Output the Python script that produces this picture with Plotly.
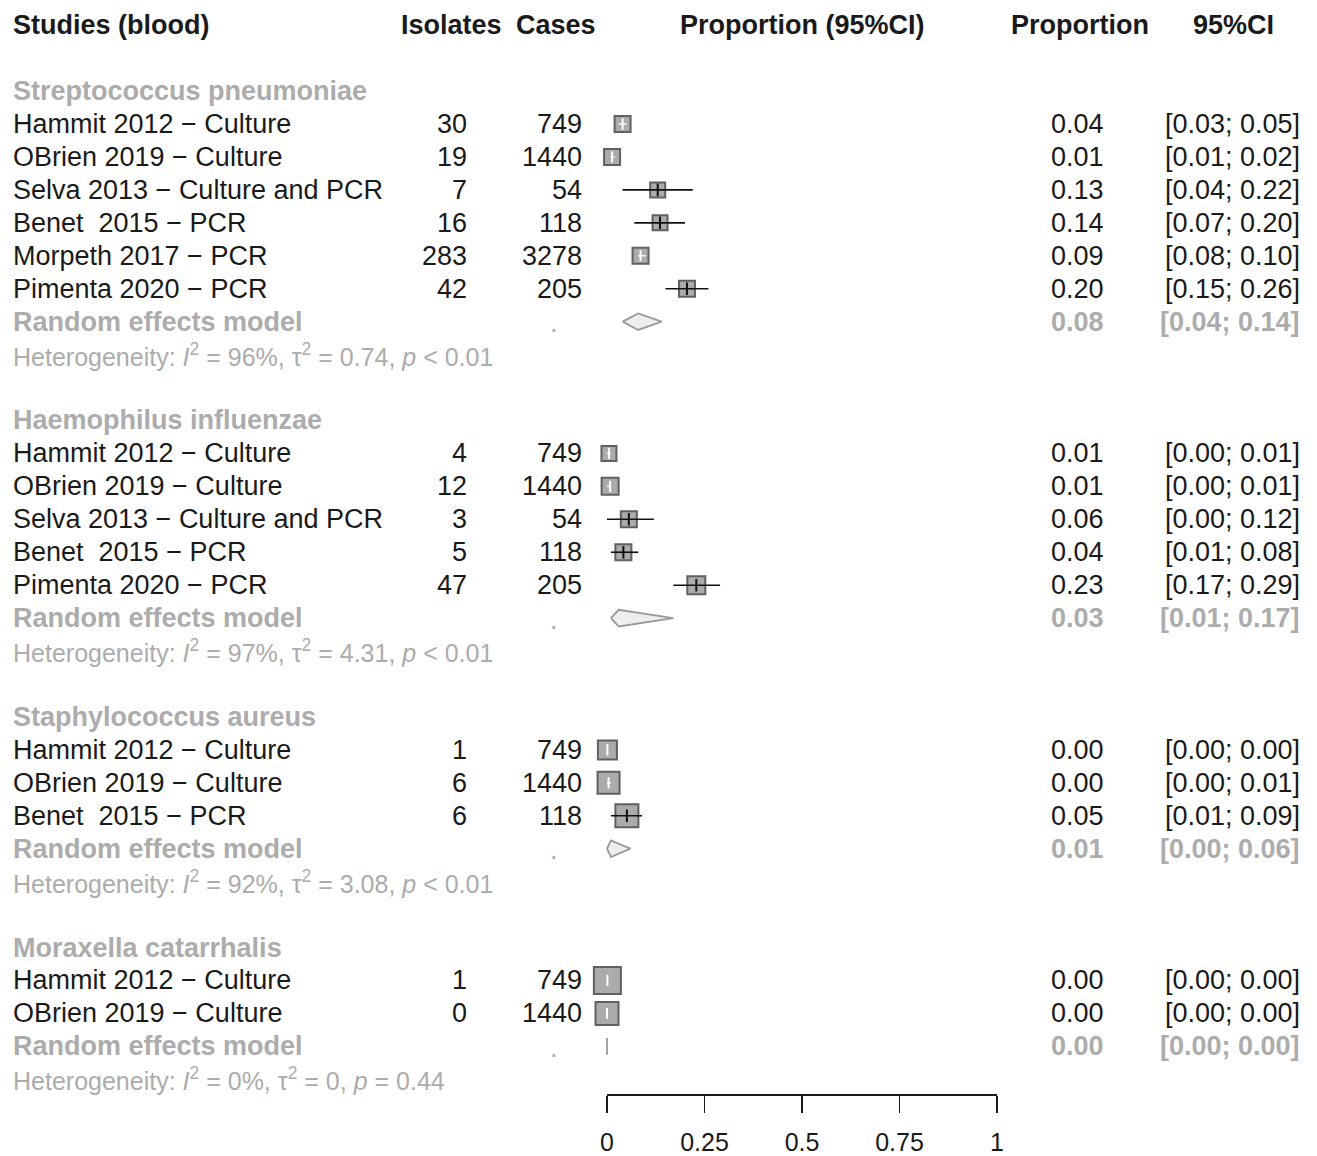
import plotly.graph_objects as go

W, H = 1317, 1156

# ---------------- data ----------------
group_names = ["Streptococcus pneumoniae", "Haemophilus influenzae",
               "Staphylococcus aureus", "Moraxella catarrhalis"]

sp_studies = ["Hammit 2012 − Culture", "OBrien 2019 − Culture", "Selva 2013 − Culture and PCR",
              "Benet\u00a0 2015 − PCR", "Morpeth 2017 − PCR", "Pimenta 2020 − PCR"]
sp_isolates = [30, 19, 7, 16, 283, 42]
sp_cases = [749, 1440, 54, 118, 3278, 205]
sp_prop = [0.040, 0.013, 0.130, 0.136, 0.086, 0.205]
sp_lower = [0.03, 0.01, 0.04, 0.07, 0.08, 0.15]
sp_upper = [0.05, 0.02, 0.22, 0.20, 0.10, 0.26]
sp_weight_px = [16, 16, 15, 15, 16, 16]

hi_studies = ["Hammit 2012 − Culture", "OBrien 2019 − Culture", "Selva 2013 − Culture and PCR",
              "Benet\u00a0 2015 − PCR", "Pimenta 2020 − PCR"]
hi_isolates = [4, 12, 3, 5, 47]
hi_cases = [749, 1440, 54, 118, 205]
hi_prop = [0.005, 0.008, 0.056, 0.042, 0.229]
hi_lower = [0.00, 0.00, 0.00, 0.01, 0.17]
hi_upper = [0.01, 0.01, 0.12, 0.08, 0.29]
hi_weight_px = [15, 17, 16, 16, 18]

sa_studies = ["Hammit 2012 − Culture", "OBrien 2019 − Culture", "Benet\u00a0 2015 − PCR"]
sa_isolates = [1, 6, 6]
sa_cases = [749, 1440, 118]
sa_prop = [0.001, 0.004, 0.051]
sa_lower = [0.00, 0.00, 0.01]
sa_upper = [0.00, 0.01, 0.09]
sa_weight_px = [19, 22, 23]

mc_studies = ["Hammit 2012 − Culture", "OBrien 2019 − Culture"]
mc_isolates = [1, 0]
mc_cases = [749, 1440]
mc_prop = [0.001, 0.000]
mc_lower = [0.00, 0.00]
mc_upper = [0.00, 0.00]
mc_weight_px = [27, 23]

re_prop = [0.08, 0.03, 0.01, 0.00]
re_lower = [0.04, 0.01, 0.00, 0.00]
re_upper = [0.14, 0.17, 0.06, 0.00]

het_i2 = ["96%", "97%", "92%", "0%"]
het_tau2 = ["0.74", "4.31", "3.08", "0"]
het_p = ["&lt; 0.01", "&lt; 0.01", "&lt; 0.01", "= 0.44"]

tick_vals = [0, 0.25, 0.5, 0.75, 1]
tick_text = ["0", "0.25", "0.5", "0.75", "1"]

headers = ["Studies (blood)", "Isolates", "Cases", "Proportion (95%CI)", "Proportion", "95%CI"]

# ---------------- layout constants (page pixels) ----------------
FONT = "Liberation Sans, Arial, sans-serif"
FS = 27
BLACK = "#1a1a1a"
GRAY = "#acacac"
ROW0_PAGE = 25.2
ROW_H = 32.94
X0_PAGE, UNIT_PX = 607, 390
AXIS_PAGE = 1095
PAD = 0.1

def fx(x_page):
    return x_page / W

AXIS_ROW = (AXIS_PAGE - ROW0_PAGE) / ROW_H

groups = [
    dict(studies=sp_studies, iso=sp_isolates, cases=sp_cases, prop=sp_prop, lo=sp_lower, hi=sp_upper, w=sp_weight_px),
    dict(studies=hi_studies, iso=hi_isolates, cases=hi_cases, prop=hi_prop, lo=hi_lower, hi=hi_upper, w=hi_weight_px),
    dict(studies=sa_studies, iso=sa_isolates, cases=sa_cases, prop=sa_prop, lo=sa_lower, hi=sa_upper, w=sa_weight_px),
    dict(studies=mc_studies, iso=mc_isolates, cases=mc_cases, prop=mc_prop, lo=mc_lower, hi=mc_upper, w=mc_weight_px),
]

fig = go.Figure()
ann = []

def add_text(x_page, row, text, anchor="left", color=BLACK, bold=False, size=FS):
    ann.append(dict(x=fx(x_page), xref="paper", y=row, yref="y", text=(f"<b>{text}</b>" if bold else text),
                    xanchor=anchor, yanchor="middle", showarrow=False,
                    font=dict(family=FONT, size=size, color=color)))

# headers
add_text(11, 0, headers[0], bold=True)
add_text(399, 0, headers[1], bold=True)
add_text(514, 0, headers[2], bold=True)
add_text(802, 0, headers[3], anchor="center", bold=True)
add_text(1009, 0, headers[4], bold=True)
add_text(1233, 0, headers[5], anchor="center", bold=True)

row = 2
all_sq_x, all_sq_y, all_sq_s = [], [], []
black_lx, black_ly, white_lx, white_ly = [], [], [], []
black_tx, black_ty, white_tx, white_ty = [], [], [], []

for gi, g in enumerate(groups):
    add_text(11, row, group_names[gi], color=GRAY, bold=True)
    row += 1
    for i, name in enumerate(g["studies"]):
        add_text(11, row, name)
        add_text(469, row, str(g["iso"][i]), anchor="right")
        add_text(584, row, str(g["cases"][i]), anchor="right")
        add_text(1106, row, f"{g['prop'][i]:.2f}", anchor="right")
        add_text(1302, row, f"[{g['lo'][i]:.2f}; {g['hi'][i]:.2f}]", anchor="right")
        all_sq_x.append(g["prop"][i]); all_sq_y.append(row); all_sq_s.append(g["w"][i])
        inside = (g["hi"][i] - g["lo"][i]) * UNIT_PX < g["w"][i]
        if inside:
            white_lx += [g["lo"][i], g["hi"][i], None]; white_ly += [row, row, None]
            white_tx.append(g["prop"][i]); white_ty.append(row)
        else:
            black_lx += [g["lo"][i], g["hi"][i], None]; black_ly += [row, row, None]
            black_tx.append(g["prop"][i]); black_ty.append(row)
        row += 1
    # random effects
    add_text(11, row, "Random effects model", color=GRAY, bold=True)
    add_text(554, row + 0.05, ".", anchor="center", color=GRAY)
    add_text(1106, row, f"{re_prop[gi]:.2f}", anchor="right", color=GRAY, bold=True)
    add_text(1302, row, f"[{re_lower[gi]:.2f}; {re_upper[gi]:.2f}]", anchor="right", color=GRAY, bold=True)
    hh = 8.3 / ROW_H
    fig.add_trace(go.Scatter(
        x=[re_lower[gi], re_prop[gi], re_upper[gi], re_prop[gi], re_lower[gi]],
        y=[row, row - hh, row, row + hh, row],
        mode="lines", fill="toself", fillcolor="#eeeeee",
        line=dict(color="#9a9a9a", width=1.8), hoverinfo="skip", showlegend=False))
    row += 1
    het = (f"Heterogeneity: <i>I</i><sup>2</sup> = {het_i2[gi]}, τ<sup>2</sup> = {het_tau2[gi]}, "
           f"<i>p</i> {het_p[gi]}")
    add_text(11, row, het, color=GRAY, size=25)
    row += 2

# study boxes
fig.add_trace(go.Scatter(x=all_sq_x, y=all_sq_y, mode="markers", cliponaxis=False,
                         marker=dict(symbol="square", size=all_sq_s, color="#888888",
                                     line=dict(color="#1e1e1e", width=2)),
                         hoverinfo="skip", showlegend=False))
# CI lines
fig.add_trace(go.Scatter(x=black_lx, y=black_ly, mode="lines", line=dict(color="#111111", width=1.6),
                         hoverinfo="skip", showlegend=False))
fig.add_trace(go.Scatter(x=white_lx, y=white_ly, mode="lines", line=dict(color="white", width=1.4),
                         hoverinfo="skip", showlegend=False))
fig.add_trace(go.Scatter(x=black_tx, y=black_ty, mode="markers", cliponaxis=False,
                         marker=dict(symbol="line-ns", size=9, line=dict(color="#111111", width=2)),
                         hoverinfo="skip", showlegend=False))
fig.add_trace(go.Scatter(x=white_tx, y=white_ty, mode="markers", cliponaxis=False,
                         marker=dict(symbol="line-ns", size=8, line=dict(color="white", width=2)),
                         hoverinfo="skip", showlegend=False))

# axis line from first to last tick
fig.add_shape(type="line", xref="x", yref="y", x0=tick_vals[0], x1=tick_vals[-1],
              y0=AXIS_ROW, y1=AXIS_ROW, line=dict(color="#1a1a1a", width=1.8))

y_top = -ROW0_PAGE / ROW_H
y_bot = (H - ROW0_PAGE) / ROW_H

x_left = X0_PAGE - PAD * UNIT_PX
x_right = X0_PAGE + (1 + PAD) * UNIT_PX

fig.update_layout(
    width=W, height=H, margin=dict(l=0, r=0, t=0, b=0),
    paper_bgcolor="white", plot_bgcolor="white",
    annotations=ann, showlegend=False,
    xaxis=dict(domain=[fx(x_left), fx(x_right)],
               range=[-PAD, 1 + PAD], anchor="free", position=1 - AXIS_PAGE / H,
               showgrid=False, zeroline=False, showline=False,
               ticks="outside", ticklen=17, tickwidth=1.8, tickcolor="#1a1a1a",
               tickvals=tick_vals, ticktext=tick_text, ticklabelstandoff=8,
               tickfont=dict(family=FONT, size=25, color=BLACK), fixedrange=True),
    yaxis=dict(domain=[0, 1], range=[y_bot, y_top], visible=False, fixedrange=True),
)

fig.write_html("out.html", config={"displayModeBar": False, "staticPlot": True},
               post_script=("document.documentElement.style.overflow='hidden';"
                            "document.body.style.margin='0';document.body.style.overflow='hidden';"))
